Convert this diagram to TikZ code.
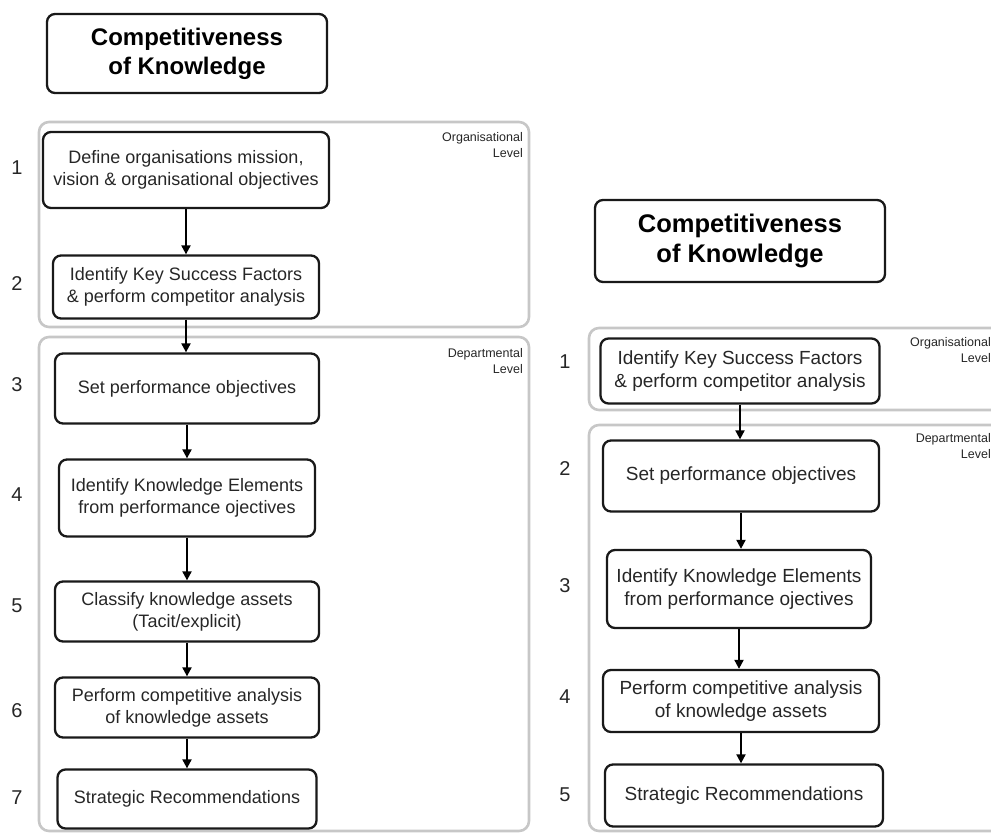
\documentclass[tikz,border=0pt]{standalone}
\usepackage{fontspec}
\setmainfont{Liberation Sans}
\usetikzlibrary{arrows.meta}
\begin{document}
\begin{tikzpicture}[x=1pt,y=-1pt,
  stepbox/.style={draw=black!90, line width=2.3pt, rounded corners=8pt, align=center,
    inner sep=0pt, text=black!85,
    font=\fontsize{18}{22}\selectfont},
  bigstep/.style={stepbox, font=\fontsize{19}{23}\selectfont},
  titlebox/.style={stepbox, font=\fontsize{24}{29}\bfseries\selectfont, text=black},
  bigtitle/.style={titlebox, font=\fontsize{25.5}{30}\bfseries\selectfont},
  levelgroup/.style={draw=black!22, line width=2.6pt, rounded corners=10pt},
  levellabel/.style={anchor=north east, align=right, inner sep=0pt, text=black!85,
    font=\fontsize{12.5}{16}\selectfont},
  stepnum/.style={inner sep=0pt, text=black!85, font=\fontsize{20}{22}\selectfont},
  flow/.style={line width=2pt, -{Triangle[width=9pt,length=9pt]}}]
\useasboundingbox (0,0) rectangle (991,833);
\clip (0,0) rectangle (991,833);

% ---------- left column: seven steps ----------
\node[titlebox, minimum width=280pt, minimum height=79pt] (ltitle) at (187,53.5)
  {Competitiveness\\of Knowledge};

\draw[levelgroup] (39,122) rectangle (529,327);
\draw[levelgroup] (39,337) rectangle (529,831);
\node[levellabel] (lorg) at (523,132) {Organisational\\Level};
\node[levellabel] (ldep) at (523,348) {Departmental\\Level};

\node[stepbox, minimum width=286pt, minimum height=76pt] (l1) at (186,170)
  {Define organisations mission,\\vision \& organisational objectives};
\node[stepbox, minimum width=266pt, minimum height=63pt] (l2) at (186,287)
  {Identify Key Success Factors\\\& perform competitor analysis};
\node[stepbox, minimum width=264pt, minimum height=70pt] (l3) at (187,388.5)
  {Set performance objectives};
\node[stepbox, minimum width=256pt, minimum height=77pt] (l4) at (187,498)
  {Identify Knowledge Elements\\from performance ojectives};
\node[stepbox, minimum width=264pt, minimum height=60pt] (l5) at (187,611.5)
  {Classify knowledge assets\\(Tacit/explicit)};
\node[stepbox, minimum width=264pt, minimum height=60pt] (l6) at (187,707.5)
  {Perform competitive analysis\\of knowledge assets};
\node[stepbox, minimum width=259pt, minimum height=59pt] (l7) at (187,799)
  {Strategic Recommendations};

\node[stepnum] (ln1) at (17,168) {1};
\node[stepnum] (ln2) at (17,284) {2};
\node[stepnum] (ln3) at (17,385) {3};
\node[stepnum] (ln4) at (17,495) {4};
\node[stepnum] (ln5) at (17,606) {5};
\node[stepnum] (ln6) at (17,711) {6};
\node[stepnum] (ln7) at (17,798) {7};

\draw[flow] (l1.south) -- (l1.south |- l2.north);
\draw[flow] (l2.south) -- (l2.south |- l3.north);
\draw[flow] (l3.south) -- (l3.south |- l4.north);
\draw[flow] (l4.south) -- (l4.south |- l5.north);
\draw[flow] (l5.south) -- (l5.south |- l6.north);
\draw[flow] (l6.south) -- (l6.south |- l7.north);

% ---------- right column: five steps ----------
\node[bigtitle, minimum width=290pt, minimum height=82pt] (rtitle) at (740,241)
  {Competitiveness\\of Knowledge};

\draw[levelgroup] (589,328) rectangle (1003,410);
\draw[levelgroup] (589,425) rectangle (1003,831);
\node[levellabel] (rorg) at (991,337) {Organisational\\Level};
\node[levellabel] (rdep) at (991,433) {Departmental\\Level};

\node[bigstep, minimum width=279pt, minimum height=65pt] (r1) at (740,371)
  {Identify Key Success Factors\\\& perform competitor analysis};
\node[bigstep, minimum width=276pt, minimum height=71pt] (r2) at (741,476)
  {Set performance objectives};
\node[bigstep, minimum width=264pt, minimum height=78pt] (r3) at (739,589)
  {Identify Knowledge Elements\\from performance ojectives};
\node[bigstep, minimum width=276pt, minimum height=62pt] (r4) at (741,701)
  {Perform competitive analysis\\of knowledge assets};
\node[bigstep, minimum width=278pt, minimum height=62pt] (r5) at (744,795.5)
  {Strategic Recommendations};

\node[stepnum] (rn1) at (565,362) {1};
\node[stepnum] (rn2) at (565,469) {2};
\node[stepnum] (rn3) at (565,586) {3};
\node[stepnum] (rn4) at (565,697) {4};
\node[stepnum] (rn5) at (565,795) {5};

\draw[flow] (r1.south) -- (r1.south |- r2.north);
\draw[flow] (r2.south) -- (r2.south |- r3.north);
\draw[flow] (r3.south) -- (r3.south |- r4.north);
\draw[flow] (r4.south) -- (r4.south |- r5.north);
\end{tikzpicture}
\end{document}
